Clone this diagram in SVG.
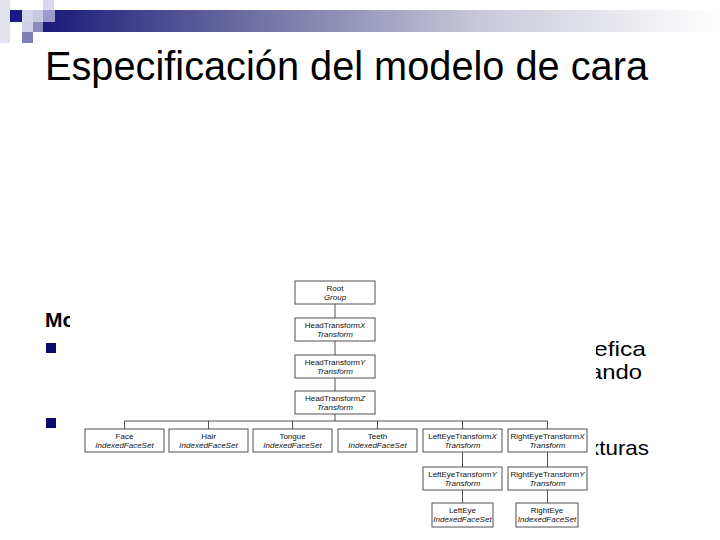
<svg xmlns="http://www.w3.org/2000/svg" width="720" height="540" viewBox="0 0 720 540">
<defs>
<linearGradient id="bar" x1="0" y1="0" x2="1" y2="0">
<stop offset="0" stop-color="#16167a"/>
<stop offset="0.3" stop-color="#6a6aa0"/>
<stop offset="0.65" stop-color="#c8c8d8"/>
<stop offset="1" stop-color="#ffffff"/>
</linearGradient>
<style>
.title{font-family:"Liberation Sans",Arial,sans-serif;font-size:40px;fill:#000}
.body{font-family:"Liberation Sans",Arial,sans-serif;font-size:21px;fill:#000}
.box{fill:#fff;stroke:#505050;stroke-width:1}
.t{font-family:"Liberation Sans",Arial,sans-serif;font-size:8px;fill:#111;text-anchor:middle}
.i{font-style:italic}
.conn line{stroke:#505050;stroke-width:1}
</style>
</defs>
<rect width="720" height="540" fill="#fff"/>
<g id="header">
<rect x="33" y="10" width="687" height="22" fill="url(#bar)"/>
<rect x="0" y="0" width="10" height="43" fill="#e2e2f0"/>
<rect x="10" y="10" width="12" height="12" fill="#1a1a80"/>
<rect x="22" y="10" width="11" height="12" fill="#d4d4ea"/>
<rect x="33" y="10" width="10" height="12" fill="#c8c8e2"/>
<rect x="43" y="0" width="11" height="10" fill="#d8d8ec"/>
<rect x="43" y="10" width="12" height="12" fill="#9a9acb"/>
<rect x="22" y="22" width="11" height="10" fill="#d0d0e8"/>
<rect x="33" y="22" width="10" height="10" fill="#8a8ac0"/>
<rect x="22" y="32" width="11" height="11" fill="#8080b8"/>
</g>
<text class="title" x="45" y="80" textLength="603" lengthAdjust="spacingAndGlyphs">Especificación del modelo de cara</text>
<text class="body" x="45" y="327" font-weight="bold" font-size="23">Mo</text>
<rect x="46" y="343" width="10" height="10" fill="#0a0a6e"/>
<rect x="46" y="418" width="10" height="10" fill="#0a0a6e"/>
<text class="body" x="594" y="356" textLength="52" lengthAdjust="spacingAndGlyphs">efica</text>
<text class="body" x="589" y="379" textLength="53" lengthAdjust="spacingAndGlyphs">ando</text>
<text class="body" x="588" y="455" textLength="61" lengthAdjust="spacingAndGlyphs">xturas</text>
<rect x="70" y="275" width="526" height="263" fill="#fff"/>
<g class="conn" id="connectors">
<line x1="335" y1="304" x2="335" y2="318"/>
<line x1="335" y1="341" x2="335" y2="355"/>
<line x1="335" y1="378" x2="335" y2="391"/>
<line x1="335" y1="414" x2="335" y2="421"/>
<line x1="124.5" y1="421" x2="547.5" y2="421"/>
<line x1="124.5" y1="421" x2="124.5" y2="429"/>
<line x1="208.5" y1="421" x2="208.5" y2="429"/>
<line x1="292.5" y1="421" x2="292.5" y2="429"/>
<line x1="377.5" y1="421" x2="377.5" y2="429"/>
<line x1="462.5" y1="421" x2="462.5" y2="429"/>
<line x1="547.5" y1="421" x2="547.5" y2="429"/>
<line x1="462.5" y1="452" x2="462.5" y2="467"/>
<line x1="547.5" y1="452" x2="547.5" y2="467"/>
<line x1="462.5" y1="490" x2="462.5" y2="503"/>
<line x1="547.5" y1="490" x2="547.5" y2="503"/>
</g>
<g id="root"><rect class="box" x="295" y="281" width="80" height="23"/><text class="t" x="335" y="291">Root</text><text class="t i" x="335" y="300">Group</text></g>
<g id="htx"><rect class="box" x="295" y="318" width="80" height="23"/><text class="t" x="335" y="328">HeadTransform<tspan class="i">X</tspan></text><text class="t i" x="335" y="337">Transform</text></g>
<g id="hty"><rect class="box" x="295" y="355" width="80" height="23"/><text class="t" x="335" y="365">HeadTransform<tspan class="i">Y</tspan></text><text class="t i" x="335" y="374">Transform</text></g>
<g id="htz"><rect class="box" x="295" y="391" width="80" height="23"/><text class="t" x="335" y="401">HeadTransform<tspan class="i">Z</tspan></text><text class="t i" x="335" y="410">Transform</text></g>
<g id="face"><rect class="box" x="85" y="429" width="79" height="23"/><text class="t" x="124.5" y="439">Face</text><text class="t i" x="124.5" y="448">IndexedFaceSet</text></g>
<g id="hair"><rect class="box" x="169" y="429" width="79" height="23"/><text class="t" x="208.5" y="439">Hair</text><text class="t i" x="208.5" y="448">IndexedFaceSet</text></g>
<g id="tongue"><rect class="box" x="253" y="429" width="79" height="23"/><text class="t" x="292.5" y="439">Tongue</text><text class="t i" x="292.5" y="448">IndexedFaceSet</text></g>
<g id="teeth"><rect class="box" x="338" y="429" width="79" height="23"/><text class="t" x="377.5" y="439">Teeth</text><text class="t i" x="377.5" y="448">IndexedFaceSet</text></g>
<g id="lex"><rect class="box" x="423" y="429" width="79" height="23"/><text class="t" x="462.5" y="439">LeftEyeTransform<tspan class="i">X</tspan></text><text class="t i" x="462.5" y="448">Transform</text></g>
<g id="rex"><rect class="box" x="508" y="429" width="79" height="23"/><text class="t" x="547.5" y="439" textLength="74" lengthAdjust="spacingAndGlyphs">RightEyeTransform<tspan class="i">X</tspan></text><text class="t i" x="547.5" y="448">Transform</text></g>
<g id="ley"><rect class="box" x="423" y="467" width="79" height="23"/><text class="t" x="462.5" y="477">LeftEyeTransform<tspan class="i">Y</tspan></text><text class="t i" x="462.5" y="486">Transform</text></g>
<g id="rey"><rect class="box" x="508" y="467" width="79" height="23"/><text class="t" x="547.5" y="477" textLength="74" lengthAdjust="spacingAndGlyphs">RightEyeTransform<tspan class="i">Y</tspan></text><text class="t i" x="547.5" y="486">Transform</text></g>
<g id="lefteye"><rect class="box" x="432" y="503" width="61" height="24"/><text class="t" x="462.5" y="513">LeftEye</text><text class="t i" x="462.5" y="522">IndexedFaceSet</text></g>
<g id="righteye"><rect class="box" x="516" y="503" width="62" height="24"/><text class="t" x="547" y="513">RightEye</text><text class="t i" x="547" y="522">IndexedFaceSet</text></g>
</svg>
